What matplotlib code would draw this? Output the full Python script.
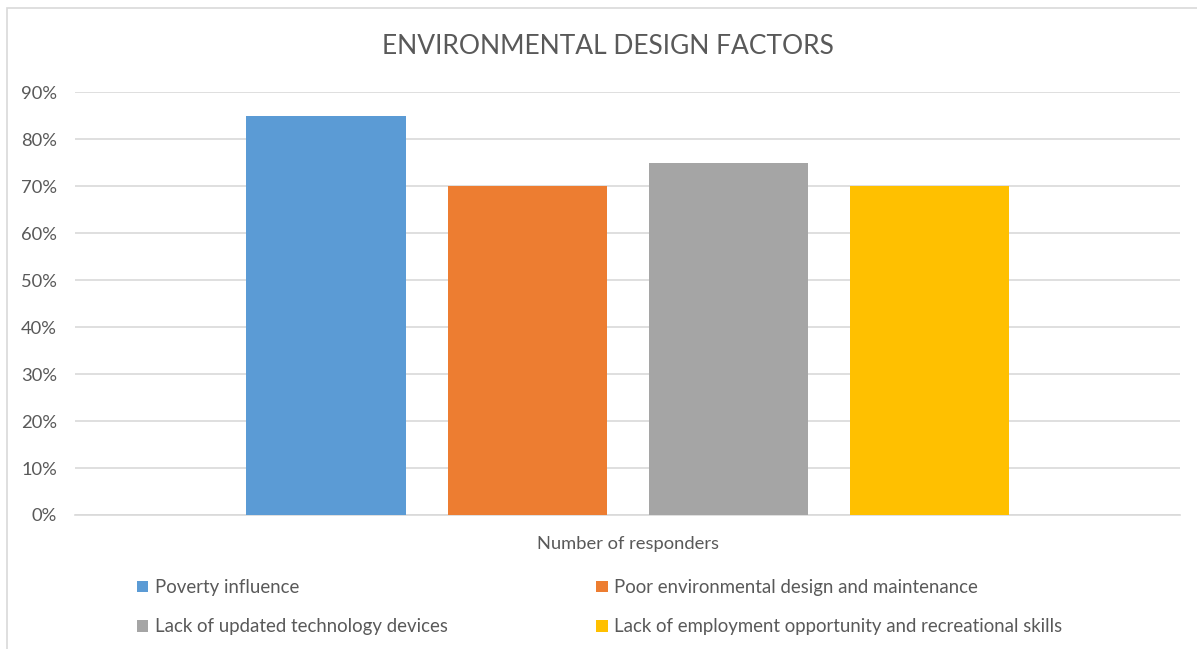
import numpy as np
import matplotlib.pyplot as plt
from matplotlib.patches import Rectangle
from matplotlib.ticker import PercentFormatter

plt.rcParams['font.family'] = ['Lato', 'DejaVu Sans']

# data
category = "Number of responders"
factors = [
    "Poverty influence",
    "Poor environmental design and maintenance",
    "Lack of updated technology devices",
    "Lack of employment opportunity and recreational skills",
]
shares = [0.85, 0.70, 0.75, 0.70]
colors = ["#5b9bd5", "#ed7d31", "#a5a5a5", "#ffc000"]
yticks = [0, 0.1, 0.2, 0.3, 0.4, 0.5, 0.6, 0.7, 0.8, 0.9]

text_col = "#595959"
grid_col = "#d9d9d9"

fig = plt.figure(figsize=(11.97, 6.49), dpi=100)
ax = fig.add_axes([0.0627, 0.2065, 0.9235, 0.6515])

# chart border (light gray frame like the Excel chart area)
fig.patches.append(Rectangle((7 / 1197, -0.1), 1.2, 1 - 8 / 649 + 0.1,
                             transform=fig.transFigure, fill=False,
                             edgecolor=grid_col, linewidth=1.2))

step = 0.182
width = 0.144
offsets = (np.arange(len(factors)) - 1.5) * step
bars = []
for off, val, col, lab in zip(offsets, shares, colors, factors):
    b = ax.bar(off, val, width=width, color=col, label=lab, zorder=3)
    bars.append(b)

ax.set_xlim(-0.5, 0.5)
ax.set_ylim(0, 0.9)
ax.set_yticks(yticks)
ax.yaxis.set_major_formatter(PercentFormatter(1.0, decimals=0))
ax.set_xticks([0])
ax.set_xticklabels([category])
ax.grid(axis='y', color=grid_col, linewidth=1.2, zorder=0)
for s in ['top', 'right', 'left']:
    ax.spines[s].set_visible(False)
ax.spines['bottom'].set_color(grid_col)
ax.spines['bottom'].set_linewidth(1.2)
ax.tick_params(axis='both', length=0, labelsize=13.2, labelcolor=text_col)
ax.tick_params(axis='y', pad=13)
ax.tick_params(axis='x', pad=15)

fig.text(0.5075, 1 - 46 / 649, "ENVIRONMENTAL DESIGN FACTORS", ha='center',
         va='center', fontsize=19, color=text_col)

# Excel fills the legend row by row
order = [0, 2, 1, 3]
leg = fig.legend(handles=[bars[i][0] for i in order],
                 labels=[factors[i] for i in order], ncol=2,
                 loc='upper left', bbox_to_anchor=(137 / 1197, 1 - 579 / 649),
                 frameon=False, fontsize=13.4, handlelength=0.6,
                 handleheight=0.6, handletextpad=0.35, columnspacing=8.0,
                 labelspacing=1.2, borderaxespad=0, borderpad=0)
for t in leg.get_texts():
    t.set_color(text_col)

fig.savefig("out.png", dpi=100, facecolor="white")
